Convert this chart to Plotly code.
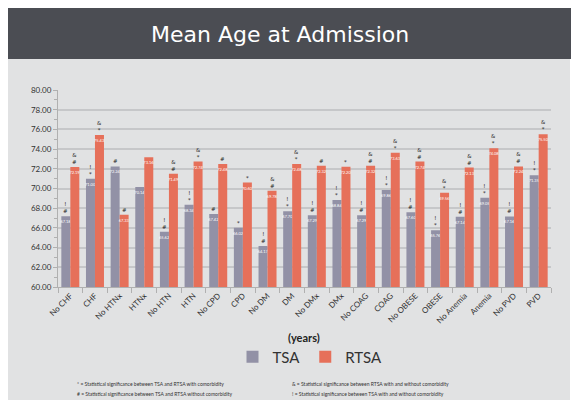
import plotly.graph_objects as go

categories = ["No CHF", "CHF", "No HTNx", "HTNx", "No HTN", "HTN", "No CPD", "CPD",
              "No DM", "DM", "No DMx", "DMx", "No COAG", "COAG", "No OBESE", "OBESE",
              "No Anemia", "Anemia", "No PVD", "PVD"]
tsa = [67.18, 71.00, 72.24, 70.14, 65.62, 68.34, 67.42, 66.02, 64.17, 67.70,
       67.29, 68.84, 67.29, 69.86, 67.60, 65.76, 67.14, 69.05, 67.16, 71.35]
rtsa = [72.19, 75.43, 67.33, 73.16, 71.49, 72.74, 72.48, 70.60, 69.78, 72.48,
        72.32, 72.20, 72.32, 73.63, 72.74, 69.56, 72.13, 74.08, 72.24, 75.50]
tsa_marks = ["!<br>#", "!<br>*", "#", "", "!<br>#", "!<br>*", "#", "*", "!<br>#", "!<br>*",
             "!<br>#", "!<br>*", "!<br>#", "!<br>*", "!<br>#", "!<br>*", "!<br>#", "!<br>*", "!<br>#", "!<br>*"]
rtsa_marks = ["&<br>#", "&<br>*", "#", "", "&<br>#", "&<br>*", "#", "*", "&<br>#", "&<br>*",
              "#", "*", "&<br>#", "&<br>*", "&<br>#", "&<br>*", "&<br>#", "&<br>*", "&<br>#", "&<br>*"]
y_ticks = [60, 62, 64, 66, 68, 70, 72, 74, 76, 78, 80]

W, H = 579, 406
OFF = 8  # page body margin
L, R, T, B = 58 - OFF, 551 - OFF, 90 - OFF, 287 - OFF

def px(x):
    return (x - OFF - L) / (R - L)

def py(y):
    return (B - (y - OFF)) / (B - T)

TSA_C = "#9291a6"
RTSA_C = "#e6705a"

fig = go.Figure()
fig.add_bar(x=categories, y=tsa, name="TSA", marker=dict(color=TSA_C, line=dict(width=0)),
            texttemplate="%{y:.2f}", textposition="inside", insidetextanchor="end",
            textangle=0, textfont=dict(size=4, color="white", family="Lato"))
fig.add_bar(x=categories, y=rtsa, name="RTSA", marker=dict(color=RTSA_C, line=dict(width=0)),
            texttemplate="%{y:.2f}", textposition="inside", insidetextanchor="end",
            textangle=0, textfont=dict(size=4, color="white", family="Lato"))

annotations = []
for c, v, m in zip(categories, tsa, tsa_marks):
    if m:
        annotations.append(dict(x=c, y=v, xref="x", yref="y", text=m, showarrow=False,
                                xshift=-4.5, yshift=0, yanchor="bottom",
                                font=dict(size=5.5, color="#222", family="DejaVu Sans"), align="center"))
for c, v, m in zip(categories, rtsa, rtsa_marks):
    if m:
        annotations.append(dict(x=c, y=v, xref="x", yref="y", text=m, showarrow=False,
                                xshift=4.5, yshift=0, yanchor="bottom",
                                font=dict(size=5.5, color="#222", family="DejaVu Sans"), align="center"))

annotations.append(dict(x=px(280), y=py(34), xref="paper", yref="paper", text="Mean Age at Admission",
                        showarrow=False, xanchor="center", yanchor="middle",
                        font=dict(size=22, color="white", family="DejaVu Sans")))
annotations.append(dict(x=px(304), y=py(337), xref="paper", yref="paper", text="<b>(years)</b>",
                        showarrow=False, xanchor="center", yanchor="middle",
                        font=dict(size=11, color="#222", family="Lato")))
foot = [
    (75, 384, "* = Statistical significance between TSA and RTSA with comorbidity"),
    (75, 394, "# = Statistical significance between TSA and RTSA without comorbidity"),
    (290, 384, "& = Statistical significance between RTSA with and without comorbidity"),
    (290, 394, "! = Statistical significance between TSA with and without comorbidity"),
]
for x0, y0, t in foot:
    annotations.append(dict(x=px(x0), y=py(y0), xref="paper", yref="paper", text=t,
                            showarrow=False, xanchor="left", yanchor="middle",
                            font=dict(size=5, color="#333", family="Lato")))

shapes = [
    dict(type="rect", xref="paper", yref="paper", x0=px(7), x1=px(570), y0=py(400), y1=py(59),
         fillcolor="#e1e2e3", line=dict(width=0), layer="below"),
    dict(type="rect", xref="paper", yref="paper", x0=px(7), x1=px(590), y0=py(59), y1=py(7),
         fillcolor="#4b4d53", line=dict(width=0), layer="below"),
]

fig.update_layout(
    width=W, height=H,
    margin=dict(l=L, r=W - R, t=T, b=H - B, pad=0),
    paper_bgcolor="white", plot_bgcolor="rgba(0,0,0,0)",
    barmode="group", bargap=0.27, bargroupgap=0,
    showlegend=True,
    legend=dict(orientation="h", x=px(310), y=py(357), xanchor="center", yanchor="middle",
                font=dict(size=15, color="#333", family="Lato"), bgcolor="rgba(0,0,0,0)"),
    uniformtext=dict(minsize=4, mode="show"),
    annotations=annotations, shapes=shapes,
    font=dict(family="Lato", color="#333"),
)
fig.update_xaxes(type="category", tickangle=-45, tickfont=dict(size=8, color="#333"),
                 showline=True, linecolor="#b0b0b0", linewidth=1,
                 ticks="outside", tickson="boundaries", ticklen=5, tickcolor="#b0b0b0",
                 showgrid=False)
fig.update_yaxes(range=[60, 80], tickvals=y_ticks, tickformat=".2f",
                 tickfont=dict(size=8, color="#333"),
                 showline=True, linecolor="#b0b0b0", linewidth=1,
                 ticks="outside", ticklen=4, tickcolor="#b0b0b0",
                 minor=dict(dtick=1, ticks="outside", ticklen=3, tickcolor="#b0b0b0"),
                 showgrid=True, gridcolor="#c6c7c9", gridwidth=1.5, zeroline=False)

fig.write_html("out.html")
